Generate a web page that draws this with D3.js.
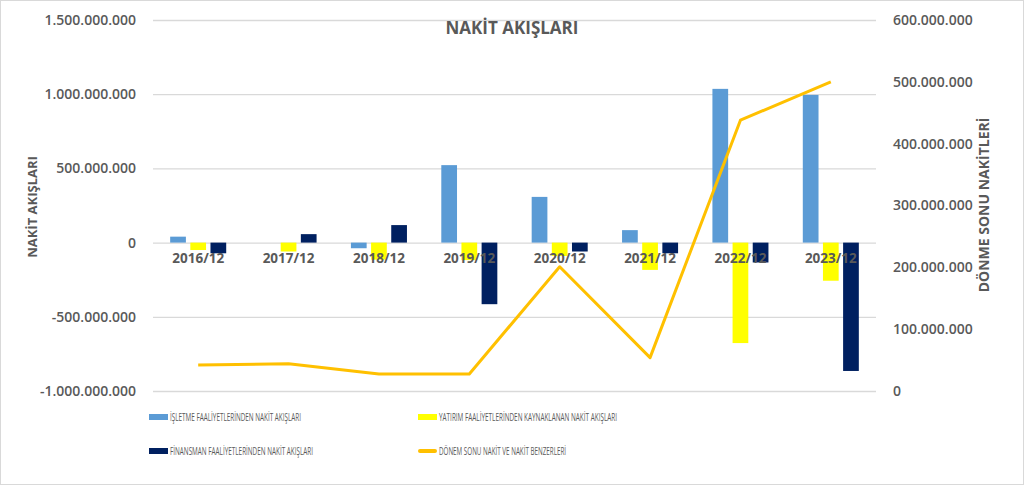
<!DOCTYPE html>
<html>
<head>
<meta charset="utf-8">
<script src="https://cdn.jsdelivr.net/npm/d3@7"></script>
<style>
  body { margin: 0; background: #fff; }
  #chart { width: 1024px; height: 485px; }
</style>
</head>
<body>
<div id="chart"></div>
<script>
// values (TL)
const categories = ["2016/12", "2017/12", "2018/12", "2019/12", "2020/12", "2021/12", "2022/12", "2023/12"];
const isletme = [40e6, 0, -38e6, 522e6, 308e6, 84e6, 1036e6, 995e6];
const yatirim = [-50e6, -60e6, -115e6, -118e6, -90e6, -184e6, -677e6, -257e6];
const finansman = [-72e6, 57e6, 118e6, -415e6, -60e6, -72e6, -134e6, -865e6];
const donemSonu = [42e6, 44e6, 27.5e6, 27.5e6, 201e6, 54e6, 438e6, 500e6];

const leftTicks = [-1e9, -5e8, 0, 5e8, 1e9, 1.5e9];
const rightTicks = [0, 1e8, 2e8, 3e8, 4e8, 5e8, 6e8];

const barSeries = [
  { name: "İŞLETME FAALİYETLERİNDEN NAKİT AKIŞLARI", values: isletme, color: "#5B9BD5" },
  { name: "YATIRIM FAALİYETLERİNDEN KAYNAKLANAN NAKİT AKIŞLARI", values: yatirim, color: "#FFFF00" },
  { name: "FİNANSMAN FAALİYETLERİNDEN NAKİT AKIŞLARI", values: finansman, color: "#002060" }
];
const lineName = "DÖNEM SONU NAKİT VE NAKİT BENZERLERİ";
const lineColor = "#FFC000";

const tr = d3.formatLocale({ decimal: ",", thousands: ".", grouping: [3], currency: ["", ""], minus: "-" });
const fmt = tr.format(",d");

const W = 1024, H = 485;
const plot = { left: 153, right: 876, top: 20, bottom: 391 };
const textColor = "#595959";
const gridColor = "#d9d9d9";

const svg = d3.select("#chart").append("svg")
  .attr("width", W).attr("height", H)
  .style("font-family", "'Open Sans', sans-serif");

svg.append("rect")
  .attr("x", 0.5).attr("y", 0.5).attr("width", W - 1).attr("height", H - 1)
  .attr("fill", "#fff").attr("stroke", gridColor);

// scales
const x0 = d3.scaleBand().domain(categories).range([plot.left, plot.right]);
const x1 = d3.scaleBand().domain(d3.range(barSeries.length))
  .range([0, x0.bandwidth() * 0.62]).paddingInner(0.22);
const yL = d3.scaleLinear().domain([-1e9, 1.5e9]).range([plot.bottom, plot.top]);
const yR = d3.scaleLinear().domain([0, 6e8]).range([plot.bottom, plot.top]);
const groupOffset = (x0.bandwidth() - x1.range()[1]) / 2;

// gridlines
svg.append("g")
  .attr("transform", `translate(${plot.left},0)`)
  .call(d3.axisLeft(yL).tickValues(leftTicks).tickSize(-(plot.right - plot.left)).tickFormat(""))
  .call(g => g.select(".domain").remove())
  .call(g => g.selectAll("line").attr("stroke", gridColor).attr("stroke-width", 1.3));

// left axis labels
svg.append("g")
  .attr("transform", `translate(${plot.left - 14},0)`)
  .call(d3.axisLeft(yL).tickValues(leftTicks).tickSize(0).tickFormat(fmt))
  .call(g => g.select(".domain").remove())
  .call(g => g.selectAll("text")
    .attr("fill", textColor).attr("font-size", 14).attr("font-weight", 600)
    .style("font-family", "'Open Sans', sans-serif"));

// right axis labels
svg.append("g")
  .attr("transform", `translate(${plot.right + 14},0)`)
  .call(d3.axisRight(yR).tickValues(rightTicks).tickSize(0).tickFormat(fmt))
  .call(g => g.select(".domain").remove())
  .call(g => g.selectAll("text")
    .attr("fill", textColor).attr("font-size", 14).attr("font-weight", 600)
    .style("font-family", "'Open Sans', sans-serif"));

// bars
const groups = svg.append("g").selectAll("g")
  .data(categories)
  .join("g")
  .attr("transform", d => `translate(${x0(d) + groupOffset},0)`);

groups.selectAll("rect")
  .data((c, i) => barSeries.map((s, k) => ({ k, v: s.values[i], color: s.color })))
  .join("rect")
  .attr("x", d => x1(d.k))
  .attr("width", x1.bandwidth())
  .attr("y", d => yL(Math.max(0, d.v)))
  .attr("height", d => Math.abs(yL(d.v) - yL(0)))
  .attr("fill", d => d.color);

// category labels
svg.append("g")
  .attr("transform", `translate(0,${yL(0) + 8})`)
  .call(d3.axisBottom(x0).tickSize(0))
  .call(g => g.select(".domain").remove())
  .call(g => g.selectAll("text")
    .attr("fill", textColor).attr("font-size", 13.5).attr("font-weight", 700)
    .style("font-family", "'Open Sans', sans-serif"));

// line
const line = d3.line()
  .x((d, i) => x0(categories[i]) + x0.bandwidth() / 2)
  .y(d => yR(d));

svg.append("path")
  .datum(donemSonu)
  .attr("d", line)
  .attr("fill", "none")
  .attr("stroke", lineColor)
  .attr("stroke-width", 3)
  .attr("stroke-linejoin", "round");

// title
svg.append("text")
  .attr("x", 512).attr("y", 34)
  .attr("text-anchor", "middle")
  .attr("fill", textColor).attr("font-size", 17).attr("font-weight", 700)
  .text("NAKİT AKIŞLARI");

// axis titles
svg.append("text")
  .attr("transform", "translate(37,207) rotate(-90)")
  .attr("text-anchor", "middle")
  .attr("fill", textColor).attr("font-size", 13).attr("font-weight", 700)
  .text("NAKİT AKIŞLARI");

svg.append("text")
  .attr("transform", "translate(989,205) rotate(-90)")
  .attr("text-anchor", "middle")
  .attr("fill", textColor).attr("font-size", 14).attr("font-weight", 700)
  .text("DÖNME SONU NAKİTLERİ");

// legend
const legendItems = [
  { name: barSeries[0].name, color: barSeries[0].color, type: "bar", x: 149, y: 417, len: 131 },
  { name: barSeries[1].name, color: barSeries[1].color, type: "bar", x: 418, y: 417, len: 178 },
  { name: barSeries[2].name, color: barSeries[2].color, type: "bar", x: 149, y: 451, len: 143 },
  { name: lineName, color: lineColor, type: "line", x: 418, y: 451, len: 127 }
];

const legend = svg.append("g").selectAll("g")
  .data(legendItems)
  .join("g")
  .attr("transform", d => `translate(${d.x},${d.y})`);

legend.append("rect")
  .attr("x", 0).attr("y", d => d.type === "bar" ? -3 : -2)
  .attr("width", 19).attr("height", d => d.type === "bar" ? 6 : 4)
  .attr("rx", d => d.type === "bar" ? 0 : 2)
  .attr("fill", d => d.color);

legend.append("text")
  .attr("x", 21).attr("y", 4)
  .attr("fill", textColor).attr("font-size", 11)
  .attr("textLength", d => d.len).attr("lengthAdjust", "spacingAndGlyphs")
  .text(d => d.name);
</script>
</body>
</html>
